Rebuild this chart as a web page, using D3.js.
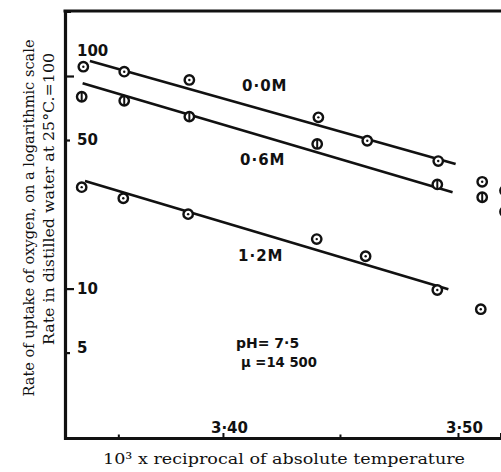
<!DOCTYPE html>
<html>
<head>
<meta charset="utf-8">
<script src="https://cdn.jsdelivr.net/npm/d3@7"></script>
<style>
  html, body { margin: 0; padding: 0; background: #fff; }
  svg { display: block; }
</style>
</head>
<body>
<svg id="chart" width="501" height="472"></svg>
<script>
// ---------- data ----------
const seriesNames = ["0·0M", "0·6M", "1·2M"];
// 10^3 / T values and rates (log scale, distilled water at 25°C = 100)
const recipT_00 = [3.3406, 3.3580, 3.3857, 3.4406, 3.4614, 3.4916, 3.5103, 3.5200];
const rate_00   = [110.6, 104.8, 95.8, 63.9, 49.6, 39.8, 31.8, 28.9];
const recipT_06 = [3.3399, 3.3580, 3.3857, 3.4401, 3.4912, 3.5103, 3.5200];
const rate_06   = [79.9, 76.5, 64.4, 47.9, 30.9, 26.9, 23.0];
const recipT_12 = [3.3399, 3.3576, 3.3852, 3.4399, 3.4607, 3.4912, 3.5097];
const rate_12   = [30.0, 26.6, 22.4, 17.1, 14.2, 9.85, 8.0];
// fitted straight lines: [start, end] as [recipT, rate]
const fit_00 = [[3.3434, 117.6], [3.4990, 38.6]];
const fit_06 = [[3.3403, 92.4], [3.4977, 28.4]];
const fit_12 = [[3.3413, 32.1], [3.4959, 9.92]];
// axes
const xDomain = [3.3328, 3.5183];
const yDomain = [1.983, 202.2];
const xTickValues = [3.40, 3.50];
const xTickLabels = ["3·40", "3·50"];
const xMinorTicks = [3.3557, 3.45];
const yTickValues = [5, 10, 50, 100];
const yTickLabels = ["5", "10", "50", "100"];
const xTitle = "10³ x reciprocal of absolute temperature";
const yTitle1 = "Rate of uptake of oxygen, on a logarithmic scale";
const yTitle2 = "Rate in distilled water at 25°C.=100";
const note1 = "pH= 7·5";
const note2 = "μ =14 500";

// ---------- layout ----------
const W = 501, H = 472;
const mLeft = 65, mTop = 11, mRight = 501, mBottom = 438;
const ink = "#111";
const tickFont = "'DejaVu Sans', sans-serif";
const titleFont = "'DejaVu Serif', serif";

const svg = d3.select("#chart");
svg.append("rect").attr("width", W).attr("height", H).attr("fill", "#fff");

const x = d3.scaleLinear().domain(xDomain).range([mLeft, mRight]);
const y = d3.scaleLog().domain(yDomain).range([mBottom, mTop]);

// ---------- frame ----------
svg.append("line").attr("x1", mLeft - 1.5).attr("x2", mRight).attr("y1", mTop).attr("y2", mTop)
  .attr("stroke", ink).attr("stroke-width", 3);

// y axis (ticks inward)
const yAxis = svg.append("g").attr("transform", `translate(${mLeft},0)`)
  .call(d3.axisRight(y).tickValues(yTickValues).tickSizeOuter(0).tickSize(6).tickPadding(6)
    .tickFormat((d, i) => yTickLabels[i]));
yAxis.select(".domain").attr("stroke", ink).attr("stroke-width", 3.2);
yAxis.selectAll(".tick line").attr("stroke", ink).attr("stroke-width", 2.2)
  .attr("x2", d => (d === 10 || d === 100) ? 9 : 5);
yAxis.selectAll(".tick text")
  .attr("fill", ink).attr("font-family", tickFont).attr("font-weight", "bold")
  .attr("font-size", 15).attr("x", 12)
  .attr("dy", d => d === 100 ? "-1.4em" : (d === 5 ? "0.0em" : "0.32em"));

// x axis at bottom (ticks and labels inside)
const xAxis = svg.append("g").attr("transform", `translate(0,${mBottom})`)
  .call(d3.axisTop(x).tickValues(xTickValues).tickSizeOuter(0).tickSize(5).tickPadding(2)
    .tickFormat((d, i) => xTickLabels[i]));
xAxis.select(".domain").attr("stroke", ink).attr("stroke-width", 3);
xAxis.selectAll(".tick line").attr("stroke", ink).attr("stroke-width", 2);
xAxis.selectAll(".tick text")
  .attr("fill", ink).attr("font-family", tickFont).attr("font-weight", "bold")
  .attr("font-size", 15).attr("dx", 6).attr("dy", "0.1em");
svg.append("g").selectAll("line").data(xMinorTicks).join("line")
  .attr("x1", d => x(d)).attr("x2", d => x(d))
  .attr("y1", mBottom).attr("y2", mBottom - 3.5)
  .attr("stroke", ink).attr("stroke-width", 2);

// ---------- fitted lines ----------
const lineGen = d3.line().x(d => x(d[0])).y(d => y(d[1]));
[fit_00, fit_06, fit_12].forEach(f => {
  svg.append("path").attr("d", lineGen(f)).attr("fill", "none")
    .attr("stroke", ink).attr("stroke-width", 2.6);
});

// ---------- points ----------
const r = 4.7;
function dotMarkers(xs, ys) {
  const g = svg.append("g");
  const pts = xs.map((v, i) => [v, ys[i]]);
  const m = g.selectAll("g").data(pts).join("g")
    .attr("transform", d => `translate(${x(d[0])},${y(d[1])})`);
  m.append("circle").attr("r", r).attr("fill", "#fff").attr("stroke", ink).attr("stroke-width", 2.4);
  m.append("circle").attr("r", 1.2).attr("fill", ink);
}
function barMarkers(xs, ys) {
  const g = svg.append("g");
  const pts = xs.map((v, i) => [v, ys[i]]);
  const m = g.selectAll("g").data(pts).join("g")
    .attr("transform", d => `translate(${x(d[0])},${y(d[1])})`);
  m.append("circle").attr("r", r).attr("fill", "#fff").attr("stroke", ink).attr("stroke-width", 2.4);
  m.append("line").attr("x1", 0).attr("x2", 0).attr("y1", -r).attr("y2", r)
    .attr("stroke", ink).attr("stroke-width", 2);
}
dotMarkers(recipT_00, rate_00);
barMarkers(recipT_06, rate_06);
dotMarkers(recipT_12, rate_12);

// ---------- series labels & notes ----------
const labelPos = [[242, 86], [240, 160], [238, 256]];
seriesNames.forEach((s, i) => {
  svg.append("text").attr("x", labelPos[i][0]).attr("y", labelPos[i][1])
    .attr("dominant-baseline", "central")
    .attr("font-family", tickFont).attr("font-weight", "bold").attr("font-size", 15)
    .attr("letter-spacing", 1).attr("fill", ink).text(s);
});
svg.append("text").attr("x", 236).attr("y", 343).attr("dominant-baseline", "central")
  .attr("font-family", tickFont).attr("font-weight", "bold").attr("font-size", 14)
  .attr("fill", ink).text(note1);
svg.append("text").attr("x", 241).attr("y", 362).attr("dominant-baseline", "central")
  .attr("font-family", tickFont).attr("font-weight", "bold").attr("font-size", 14)
  .attr("fill", ink).attr("textLength", 76).attr("lengthAdjust", "spacingAndGlyphs").text(note2);

// ---------- axis titles ----------
svg.append("text").attr("x", 284).attr("y", 459).attr("text-anchor", "middle")
  .attr("dominant-baseline", "central")
  .attr("font-family", titleFont).attr("font-size", 15).attr("fill", ink)
  .attr("textLength", 362).attr("lengthAdjust", "spacingAndGlyphs").text(xTitle);

svg.append("text").attr("transform", "translate(29,218) rotate(-90)")
  .attr("text-anchor", "middle").attr("dominant-baseline", "central")
  .attr("font-family", titleFont).attr("font-size", 15).attr("fill", ink)
  .attr("textLength", 357).attr("lengthAdjust", "spacingAndGlyphs").text(yTitle1);
svg.append("text").attr("transform", "translate(49,199) rotate(-90)")
  .attr("text-anchor", "middle").attr("dominant-baseline", "central")
  .attr("font-family", titleFont).attr("font-size", 15).attr("fill", ink)
  .attr("textLength", 292).attr("lengthAdjust", "spacingAndGlyphs").text(yTitle2);
</script>
</body>
</html>
